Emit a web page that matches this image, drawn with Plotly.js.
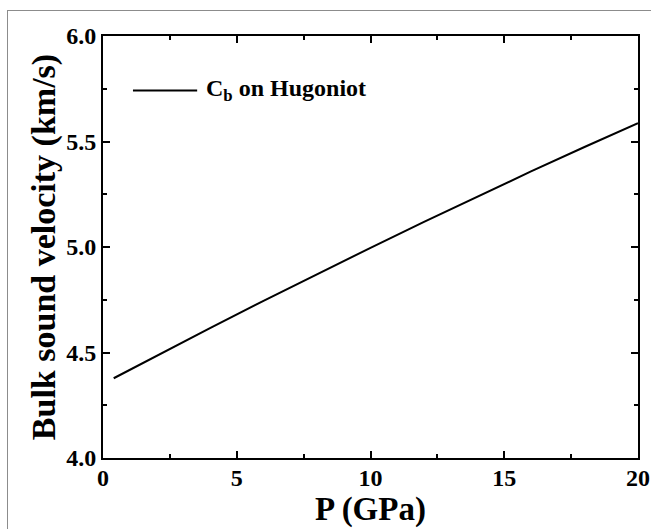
<!DOCTYPE html>
<html>
<head>
<meta charset="utf-8">
<script src="https://cdn.plot.ly/plotly-3.0.1.min.js"></script>
<style>
  html, body { margin: 0; padding: 0; background: #fff; }
  #wrap { position: relative; width: 651px; height: 529px; overflow: hidden; }
  #chart { width: 651px; height: 529px; }
  #frame { position: absolute; left: 7px; top: 10px; width: 700px; height: 600px;
           border-left: 1.5px solid #8c8c8c; border-top: 1.5px solid #8c8c8c; pointer-events: none; }
</style>
</head>
<body>
<div id="wrap">
  <div id="chart"></div>
  <div id="frame"></div>
</div>
<script>
// Pressure (GPa)
const pressure = [0.4, 2, 4, 6, 8, 10, 12, 14, 16, 18, 20];
// Bulk sound velocity on Hugoniot (km/s)
const bulkSound = [4.378, 4.485, 4.616, 4.745, 4.872, 4.996, 5.119, 5.239, 5.358, 5.474, 5.587];
const xTickVals = [0, 5, 10, 15, 20];
const xTickText = ['0', '5', '10', '15', '20'];
const yTickVals = [4.0, 4.5, 5.0, 5.5, 6.0];
const yTickText = ['4.0', '4.5', '5.0', '5.5', '6.0'];
const seriesName = 'C<sub>b</sub> on Hugoniot';
const xTitle = 'P (GPa)';
const yTitle = 'Bulk sound velocity (km/s)';

const FONT = '"Liberation Serif", "Times New Roman", serif';
const bold = s => '<b>' + s + '</b>';

const trace = {
  x: pressure, y: bulkSound, type: 'scatter', mode: 'lines',
  name: seriesName, line: { color: '#000', width: 2 }, showlegend: false
};

const axisCommon = {
  showgrid: false, zeroline: false, showline: true, linecolor: '#000', linewidth: 2,
  mirror: 'allticks', ticks: 'inside', ticklen: 7, tickwidth: 2, tickcolor: '#000',
  tickfont: { family: FONT, size: 24, color: '#000' },
  minor: { ticks: 'inside', ticklen: 4, tickwidth: 2, tickcolor: '#000', showgrid: false }
};

const layout = {
  width: 651, height: 529,
  margin: { l: 103, r: 13, t: 36, b: 71 },
  paper_bgcolor: '#fff', plot_bgcolor: '#fff',
  font: { family: FONT, color: '#000' },
  xaxis: Object.assign({}, axisCommon, {
    range: [0, 20], tickvals: xTickVals, ticktext: xTickText.map(bold),
    ticklabelstandoff: -3,
    minor: Object.assign({}, axisCommon.minor, { dtick: 2.5, tick0: 0 }),
    title: { text: bold(xTitle), font: { family: FONT, size: 33, color: '#000' }, standoff: 0 }
  }),
  yaxis: Object.assign({}, axisCommon, {
    range: [4.0, 6.0], tickvals: yTickVals, ticktext: yTickText.map(bold),
    minor: Object.assign({}, axisCommon.minor, { dtick: 0.25, tick0: 4 }),
    title: { text: bold(yTitle), font: { family: FONT, size: 34, color: '#000' }, standoff: 0 }
  }),
  shapes: [
    { type: 'line', xref: 'paper', yref: 'paper', x0: 0.056, x1: 0.176, y0: 0.871, y1: 0.871,
      line: { color: '#000', width: 2 } }
  ],
  annotations: [
    { xref: 'paper', yref: 'paper', x: 0.188, y: 0.871, xanchor: 'left', yanchor: 'middle',
      text: bold(seriesName), showarrow: false,
      font: { family: FONT, size: 24, color: '#000' } }
  ]
};

Plotly.newPlot('chart', [trace], layout, { displayModeBar: false, staticPlot: true });
</script>
</body>
</html>
